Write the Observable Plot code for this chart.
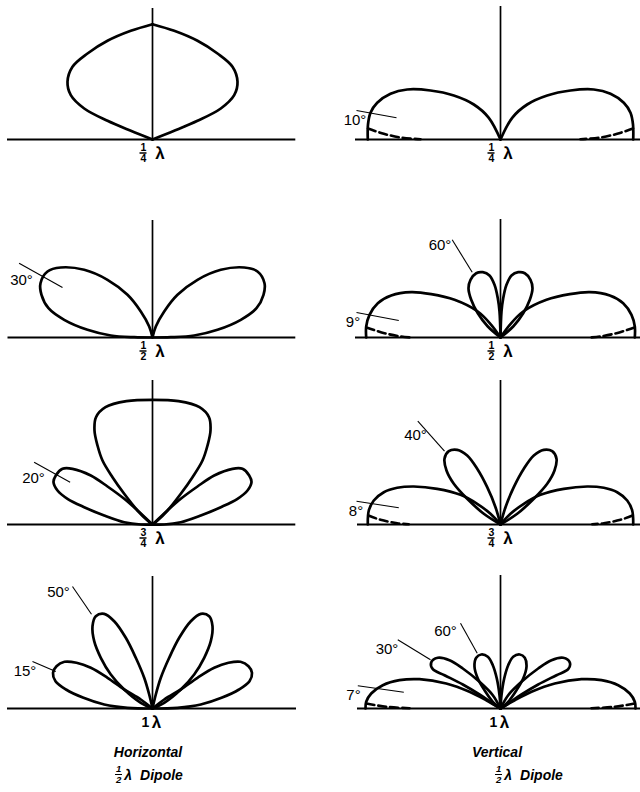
<!DOCTYPE html>
<html>
<head>
<meta charset="utf-8">
<script src="https://cdn.jsdelivr.net/npm/d3@7"></script>
<script src="https://cdn.jsdelivr.net/npm/@observablehq/plot@0.6"></script>
<style>
html,body{margin:0;padding:0;background:#fff;}
body{width:640px;height:792px;overflow:hidden;position:relative;font-family:"Liberation Sans",Arial,sans-serif;color:#000;}
.panel{position:absolute;width:300px;height:182px;}
.panel svg{max-width:none !important;overflow:visible;}
.cap{position:absolute;font-weight:bold;font-style:italic;font-size:14px;white-space:nowrap;line-height:16px;}
.cap2{display:flex;align-items:center;gap:0;}
.frac{display:inline-flex;flex-direction:column;align-items:center;font-size:9.5px;line-height:8px;margin-right:2px;}
.frac .n{border-bottom:1.6px solid #000;padding:0 1px 1px 1px;}
.frac .d{padding-top:1px;}
</style>
</head>
<body>
<script>
// ---------------- data ----------------
// Antenna height above ground, in wavelengths, one per row
const heightNumerators = ["1", "1", "3", "1"];
const heightDenominators = ["4", "2", "4", null];
const columnTitles = ["Horizontal", "Vertical"];

// Relative field strength outlines as [horizontal, vertical] components.
// Only the left-hand lobes are listed; the right-hand lobes are their mirror image.

// Horizontal dipole, 1/4 wavelength high: half outline from ground point up to zenith
const hQuarterHalf = [[0,0],[-21.7,8.7],[-45,18.7],[-68.3,31],[-81.7,44.3],[-85,57.7],[-80,72.7],[-65,86],[-45,98.7],[-21.7,108.7],[0,115.3]];
// Horizontal dipole, 1/2 wavelength: 30° lobe
const hHalfLobe = [[0,0],[-3.3,11],[-11.7,26],[-25,42.7],[-45,57.7],[-68.3,67.7],[-91.7,70],[-105,66],[-112,54.3],[-111,42.7],[-104,29.3],[-88.3,17.7],[-65,7.7],[-41.7,2],[-18.3,0.3],[0,0]];
// Horizontal dipole, 3/4 wavelength: zenith lobe (half) and 20° lobe
const hThreeQuarterTop = [[0,0],[-5,4],[-15,14],[-28.3,30.7],[-40,47.3],[-50,64],[-55,79],[-58,94],[-56.5,107.3],[-47,117.3],[-26,123.3],[0,124.7]];
const hThreeQuarterLobe = [[0,0],[-15,14],[-28.3,25.7],[-45,38],[-61.7,49],[-80,55.7],[-90,55.7],[-96.7,49],[-99,42.3],[-95,34],[-85,25.7],[-68.3,17.3],[-48.3,9],[-28.3,2.3],[-11.7,0],[0,0]];
// Horizontal dipole, 1 wavelength: 15° lobe and 50° lobe
const hOneLow = [[0,0],[-11.7,9],[-28.3,19],[-45,30.7],[-61.7,40.7],[-76,45.7],[-88,46.7],[-96,42.3],[-99.5,35.7],[-97,27.3],[-86.5,19],[-69,10.7],[-48.3,4],[-25,0.7],[0,0]];
const hOneHigh = [[0,0],[-3.3,14],[-8.3,30.7],[-16.7,50.7],[-26.7,70.7],[-38.3,87.3],[-48.3,94.7],[-56.7,92.3],[-60,82.3],[-58.3,67.3],[-51.7,50.7],[-41.7,34],[-28.3,19],[-11.7,5.7],[0,0]];

// Vertical dipole, 1/4 wavelength: main lobe and real-ground (dashed) low-angle edge
const vQuarterLobe = [[0,0],[-11.7,21.7],[-26.7,35],[-46.7,44],[-70,49],[-93.3,50],[-110,45.7],[-123.3,36.7],[-130,26.7],[-132.5,15],[-132.7,0]];
const vQuarterGround = [[-132.5,11],[-116.7,5.7],[-98.3,1.7],[-80,0.3]];
// Vertical dipole, 1/2 wavelength: 9° lobe, 60° lobe, dashed edge
const vHalfLobe = [[0,0],[-9.3,12.7],[-22.7,26],[-46,37.7],[-69.3,43.3],[-89.3,45.3],[-109.3,42],[-122.7,34.3],[-131,22.7],[-134.3,11],[-134.3,0]];
const vHalfHigh = [[0,0],[-1,26],[-2.7,39.3],[-6,52.7],[-11,62],[-17.7,65.3],[-24.3,64.3],[-30,57.7],[-32,49.3],[-29.3,37.7],[-22.7,24.3],[-12.7,11],[0,0]];
const vHalfGround = [[-134,10],[-116,4.3],[-99.3,1],[-89.3,0]];
// Vertical dipole, 3/4 wavelength: 8° lobe, 40° lobe, dashed edge
const vThreeQuarterLobe = [[0,0],[-10,10.7],[-23.3,20.7],[-40,29.7],[-63.3,35.7],[-86.7,38],[-103.3,36.7],[-116.7,32.3],[-126.7,24],[-131.7,14],[-132.7,0]];
const vThreeQuarterHigh = [[0,0],[-5,17.3],[-13.3,37.3],[-23.3,55.7],[-33.3,69],[-43.3,74.7],[-51.7,73.3],[-56,65.7],[-54,54],[-46.7,40.7],[-33.3,25.7],[-16.7,10.7],[0,0]];
const vThreeQuarterGround = [[-132,9],[-120,4.7],[-103.3,1.3],[-91.7,0.3]];
// Vertical dipole, 1 wavelength: 7° lobe, 30° lobe, 60° lobe, dashed edge
const vOneLow = [[0,0],[-14.3,8.3],[-31,16.7],[-54.3,25],[-81,29.3],[-101,28.3],[-117.7,23.3],[-129.3,15],[-134.3,6.7],[-135,0]];
const vOneMid = [[0,0],[-7.7,13.3],[-21,26.7],[-37.7,40],[-51,48.3],[-62.7,50.7],[-69.3,46],[-67.7,39.3],[-56,33.3],[-37.7,24],[-21,14],[-7.7,5],[0,0]];
const vOneHigh = [[0,0],[-1,13.3],[-3.7,30],[-7.7,43.3],[-12.7,51.7],[-19.3,54],[-24.3,50.7],[-26,41.7],[-22.7,30],[-16,18.3],[-7.7,6.7],[0,0]];
const vOneGround = [[-134,5],[-114.3,1.7],[-91,0.3]];

// Elevation-angle callouts: label, leader end points, label anchor
const hHalfNotes = [{label:"30°", outer:[-133.4,74.3], inner:[-90,50], at:[-131,57]}];
const hThreeQuarterNotes = [{label:"20°", outer:[-118.4,62.3], inner:[-82.4,42.3], at:[-119,46.5]}];
const hOneNotes = [
  {label:"50°", outer:[-80,122], inner:[-61,94.3], at:[-94,116.5]},
  {label:"15°", outer:[-120,47], inner:[-96.7,37], at:[-127.5,37]}
];
const vQuarterNotes = [{label:"10°", outer:[-144,29], inner:[-104,21.7], at:[-145.5,19]}];
const vHalfNotes = [
  {label:"60°", outer:[-48.3,97.7], inner:[-28.3,65.3], at:[-60.5,92.5]},
  {label:"9°", outer:[-144,25], inner:[-101.7,17], at:[-147.5,15]}
];
const vThreeQuarterNotes = [
  {label:"40°", outer:[-82.7,103.3], inner:[-56,73.3], at:[-85,89]},
  {label:"8°", outer:[-144,23.3], inner:[-101.7,16.7], at:[-144.5,13]}
];
const vOneNotes = [
  {label:"60°", outer:[-40,85.3], inner:[-23.3,55.3], at:[-55,77]},
  {label:"30°", outer:[-102.7,68.7], inner:[-70,48.7], at:[-113.5,59.5]},
  {label:"7°", outer:[-142.7,22.7], inner:[-96.7,16.3], at:[-147,13]}
];

// ---------------- panels ----------------
const panels = [
  {col:0,row:0, mast:131, ground:[-145,143.3], halves:[hQuarterHalf], notes:[]},
  {col:1,row:0, mast:133, ground:[-145,150], lobes:[vQuarterLobe], dashed:[vQuarterGround], notes:vQuarterNotes},
  {col:0,row:1, mast:117, ground:[-144.5,143.3], lobes:[hHalfLobe], notes:hHalfNotes},
  {col:1,row:1, mast:118, ground:[-145,150], lobes:[vHalfLobe, vHalfHigh], dashed:[vHalfGround], notes:vHalfNotes},
  {col:0,row:2, mast:144, ground:[-145,143.3], arches:[hThreeQuarterTop], lobes:[hThreeQuarterLobe], notes:hThreeQuarterNotes},
  {col:1,row:2, mast:144, ground:[-143,150], lobes:[vThreeQuarterLobe, vThreeQuarterHigh], dashed:[vThreeQuarterGround], notes:vThreeQuarterNotes},
  {col:0,row:3, mast:132, ground:[-145,144], lobes:[hOneLow, hOneHigh], notes:hOneNotes},
  {col:1,row:3, mast:133, ground:[-143,150], lobes:[vOneLow, vOneMid, vOneHigh], dashed:[vOneGround], notes:vOneNotes}
];

const originX = [151.7, 500];
const baselineY = [139, 337, 524, 708];

function mirrored(id, pts) {
  return pts.map(([x, y]) => ({id: id + "L", x, y}))
    .concat(pts.map(([x, y]) => ({id: id + "R", x: -x, y})));
}
function arch(id, half) {
  const left = half.map(([x, y]) => ({id, x, y}));
  const right = half.slice(0, -1).reverse().map(([x, y]) => ({id, x: -x, y}));
  return left.concat(right);
}

const FONT = "Liberation Sans, Arial, sans-serif";

panels.forEach((p, k) => {
  const solid = [];
  (p.halves || []).forEach((h, i) => solid.push(...mirrored("h" + i, h)));
  (p.arches || []).forEach((h, i) => solid.push(...arch("a" + i, h)));
  (p.lobes || []).forEach((h, i) => solid.push(...mirrored("l" + i, h)));
  const dashed = [];
  (p.dashed || []).forEach((h, i) => dashed.push(...mirrored("d" + i, h)));

  const num = heightNumerators[p.row];
  const den = heightDenominators[p.row];
  const labelMarks = den
    ? [
        Plot.text([num], {x: -9, y: 0, dy: 8.5, text: d => d, fontSize: 10.5, fontWeight: "bold", fontFamily: FONT}),
        Plot.ruleY([0], {x1: -12.5, x2: -5.5, dy: 13.5, strokeWidth: 1.5}),
        Plot.text([den], {x: -9, y: 0, dy: 19, text: d => d, fontSize: 10.5, fontWeight: "bold", fontFamily: FONT}),
        Plot.text(["λ"], {x: 7.5, y: 0, dy: 14, text: d => d, fontSize: 17, fontWeight: "bold", fontFamily: FONT})
      ]
    : [
        Plot.text([num], {x: -7, y: 0, dy: 14, text: d => d, fontSize: 14, fontWeight: "bold", fontFamily: FONT}),
        Plot.text(["λ"], {x: 4, y: 0, dy: 14, text: d => d, fontSize: 17, fontWeight: "bold", fontFamily: FONT})
      ];

  const chart = Plot.plot({
    width: 300,
    height: 182,
    margin: 0,
    x: {domain: [-150, 150], axis: null},
    y: {domain: [-32, 150], axis: null},
    style: {background: "transparent", overflow: "visible", maxWidth: "none"},
    marks: [
      Plot.ruleY([p.ground], {y: 0, x1: d => d[0], x2: d => d[1], strokeWidth: 1.8}),
      Plot.ruleX([p.mast], {x: 0, y1: 0, y2: d => d, strokeWidth: 1.7}),
      Plot.line(solid, {x: "x", y: "y", z: "id", curve: "catmull-rom", strokeWidth: 2.7, strokeLinejoin: "round"}),
      Plot.line(dashed, {x: "x", y: "y", z: "id", curve: "catmull-rom", strokeWidth: 2.6, strokeDasharray: "8,4"}),
      Plot.link(p.notes, {x1: d => d.outer[0], y1: d => d.outer[1], x2: d => d.inner[0], y2: d => d.inner[1], strokeWidth: 1.1}),
      Plot.text(p.notes, {x: d => d.at[0], y: d => d.at[1], text: "label", fontSize: 15, fontFamily: FONT}),
      ...labelMarks
    ]
  });
  const div = document.createElement("div");
  div.className = "panel";
  div.style.left = (originX[p.col] - 150) + "px";
  div.style.top = (baselineY[p.row] - 150) + "px";
  div.appendChild(chart);
  document.body.appendChild(div);
});

// column captions below the figure
const capLeft = [115, 495];
const capCenter = [148, 497];
columnTitles.forEach((t, i) => {
  const a = document.createElement("div");
  a.className = "cap";
  a.style.left = (capCenter[i] - 100) + "px";
  a.style.width = "200px";
  a.style.textAlign = "center";
  a.style.top = "744px";
  a.textContent = t;
  document.body.appendChild(a);
  const b = document.createElement("div");
  b.className = "cap cap2";
  b.style.left = capLeft[i] + "px";
  b.style.top = "765px";
  b.innerHTML = '<span class="frac"><span class="n">1</span><span class="d">2</span></span><span>λ</span><span style="margin-left:8px">Dipole</span>';
  document.body.appendChild(b);
});
</script>
</body>
</html>
